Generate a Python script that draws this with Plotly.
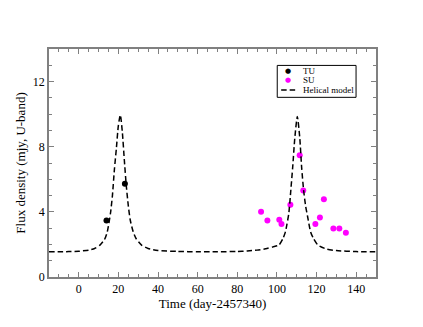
import plotly.graph_objects as go

tu_t = [14.0, 23.3]
tu_flux = [3.47, 5.72]

su_t = [92.0, 95.2, 101.2, 102.3, 106.8, 111.5, 113.3, 119.4, 121.7, 123.7, 128.5, 131.5, 134.8]
su_flux = [4.0, 3.47, 3.52, 3.25, 4.43, 7.47, 5.31, 3.25, 3.65, 4.78, 2.98, 2.98, 2.71]

# Helical model curve
model_t = [-15, -5, 0, 5, 8, 10.7, 13, 14.4, 16, 17, 18, 19, 20, 21, 22, 23, 24, 25, 26,
           27.5, 29, 31.7, 35, 40, 50, 60, 70, 80, 85, 90, 95, 98, 101, 103, 104.3, 105,
           106, 107, 108, 109, 110.3, 111.5, 112.5, 113.5, 114.5, 115.5, 117, 118.5,
           120.7, 125, 130, 140, 150]
model_flux = [1.55, 1.56, 1.58, 1.65, 1.75, 1.96, 2.3, 2.77, 3.9, 5.0, 6.6, 7.9, 9.3, 9.95,
              8.9, 7.2, 5.6, 4.4, 3.5, 2.77, 2.35, 1.96, 1.75, 1.63, 1.57, 1.55, 1.55, 1.57,
              1.6, 1.65, 1.75, 1.85, 1.96, 2.35, 2.77, 3.2, 3.9, 5.3, 6.8, 8.5, 9.86, 8.6,
              6.7, 5.3, 4.35, 3.7, 2.77, 2.35, 1.96, 1.72, 1.62, 1.56, 1.55]

legenda_nomes = ["TU", "SU", "Helical model"]

FONTE = "Liberation Serif, Times New Roman, serif"
COR_EIXO = "#808080"
COR_SU = "#ff00ff"
TRACO = "5.5px,3px"

fig = go.Figure()
fig.add_trace(go.Scatter(
    x=tu_t, y=tu_flux, mode="markers", name=legenda_nomes[0],
    marker=dict(color="black", size=6),
))
fig.add_trace(go.Scatter(
    x=su_t, y=su_flux, mode="markers", name=legenda_nomes[1],
    marker=dict(color=COR_SU, size=6),
))
fig.add_trace(go.Scatter(
    x=model_t, y=model_flux, mode="lines", name=legenda_nomes[2],
    line=dict(color="black", width=1.5, dash=TRACO, shape="spline", smoothing=0.6),
))

eixo = dict(
    showline=True, linecolor=COR_EIXO, linewidth=1.5, mirror="ticks",
    ticks="inside", ticklen=5, tickcolor=COR_EIXO, tickwidth=1,
    showgrid=False, zeroline=False,
    tickfont=dict(family=FONTE, size=12, color="black"),
)

# legenda compacta desenhada a mao (a do plotly fica alta demais)
lx0, lx1, ly0, ly1 = 0.698, 0.939, 0.788, 0.928
linhas_y = [0.904, 0.862, 0.820]
fig.add_shape(type="rect", xref="paper", yref="paper", x0=lx0, x1=lx1, y0=ly0, y1=ly1,
              line=dict(color="black", width=1), fillcolor="white", layer="above")
for nome, yy in zip(legenda_nomes, linhas_y):
    fig.add_annotation(xref="paper", yref="paper", x=0.771, y=yy, text=nome,
                       showarrow=False, xanchor="left", yanchor="middle",
                       font=dict(family=FONTE, size=9, color="black"))
for cor, yy in zip(["black", COR_SU], linhas_y[:2]):
    fig.add_annotation(xref="paper", yref="paper", x=0.731, y=yy, text="●",
                       showarrow=False, xanchor="center", yanchor="middle",
                       font=dict(family="DejaVu Sans", size=7, color=cor))
fig.add_shape(type="line", xref="paper", yref="paper", x0=0.710, x1=0.758,
              y0=linhas_y[2], y1=linhas_y[2],
              line=dict(color="black", width=1.5, dash=TRACO), layer="above")

fig.update_layout(
    width=423, height=327,
    margin=dict(l=41, r=55, t=41, b=58),
    paper_bgcolor="white", plot_bgcolor="white",
    font=dict(family=FONTE, color="black"),
    showlegend=False,
    xaxis=dict(
        range=[-15, 150], tick0=0, dtick=20,
        minor=dict(dtick=5, ticks="inside", ticklen=3, tickcolor=COR_EIXO),
        title=dict(text="Time (day-2457340)", font=dict(family=FONTE, size=13), standoff=1),
        **eixo,
    ),
    yaxis=dict(
        range=[0, 14], tick0=0, dtick=4,
        minor=dict(dtick=1, ticks="inside", ticklen=3, tickcolor=COR_EIXO),
        title=dict(text="Flux density (mjy, U-band)", font=dict(family=FONTE, size=13), standoff=4),
        **eixo,
    ),
)

fig.write_html("out.html")
